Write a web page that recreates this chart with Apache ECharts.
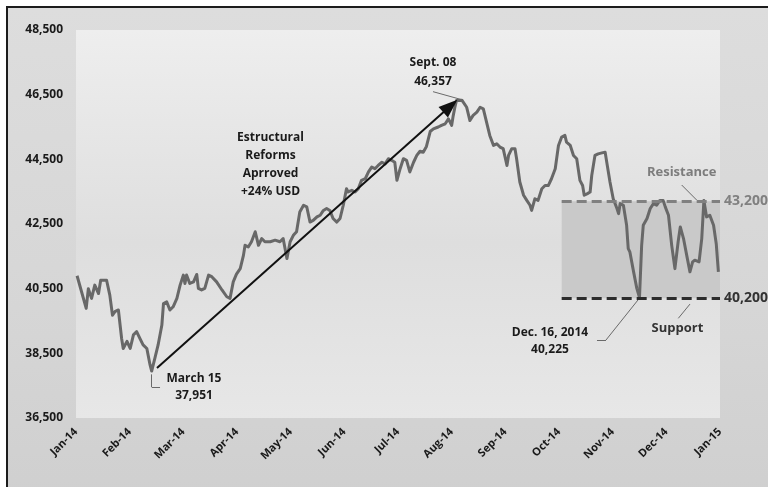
<!DOCTYPE html>
<html>
<head>
<meta charset="utf-8">
<script src="https://cdn.jsdelivr.net/npm/echarts@6/dist/echarts.min.js"></script>
<style>
  html, body { margin: 0; padding: 0; background: #ffffff; }
  #frame {
    position: absolute; left: 6px; top: 6px; width: 790px; height: 500px;
    border-left: 2px solid #1c1c1c; border-top: 2px solid #1c1c1c;
    background: linear-gradient(to bottom, #dddddd 0%, #d6d6d6 60%, #cfcfcf 100%);
  }
  #chart { position: absolute; left: 0; top: 0; width: 768px; height: 487px; }
</style>
</head>
<body>
<div id="frame"></div>
<div id="chart"></div>
<script>
// ---- data ----
const monthLabels = ['Jan-14','Feb-14','Mar-14','Apr-14','May-14','Jun-14','Jul-14','Aug-14','Sep-14','Oct-14','Nov-14','Dec-14','Jan-15'];
const yTicks = [36500, 38500, 40500, 42500, 44500, 46500, 48500];

// position along the axis, in months from Jan-14
const monthPos = [
  0.02,0.19,0.23,0.29,0.35,0.42,0.46,0.57,0.63,0.68,0.73,0.79,0.85,0.88,0.95,
  1.01,1.07,1.13,1.19,1.25,1.32,1.38,1.41,1.47,1.53,1.60,1.63,1.69,1.75,1.81,1.88,1.94,
  2.00,2.03,2.06,2.12,2.19,2.25,2.28,2.34,2.40,2.47,2.53,2.62,2.72,2.81,2.87,2.93,2.99,
  3.06,3.12,3.15,3.21,3.27,3.34,3.40,3.46,3.52,3.62,3.71,3.80,3.86,3.93,3.99,
  4.05,4.11,4.17,4.24,4.30,4.36,4.42,4.49,4.55,4.61,4.67,4.73,4.79,4.86,4.92,4.98,
  5.04,5.07,5.14,5.20,5.26,5.32,5.39,5.45,5.51,5.57,5.63,5.70,5.76,5.82,5.88,5.94,5.98,
  6.04,6.10,6.16,6.22,6.29,6.35,6.41,6.47,6.53,6.60,6.66,6.75,6.81,6.88,6.94,
  7.00,7.03,7.06,7.09,7.12,7.19,7.22,7.28,7.34,7.40,7.47,7.53,7.59,7.65,7.71,7.78,7.84,7.90,7.96,
  8.03,8.06,8.12,8.18,8.21,8.27,8.34,8.40,8.46,8.49,8.55,8.61,8.68,8.74,8.80,8.86,8.93,8.99,
  9.05,9.11,9.14,9.21,9.27,9.33,9.39,9.44,9.47,9.53,9.58,9.61,9.67,9.73,9.80,9.86,9.89,9.95,
  10.01,10.08,10.11,10.14,10.20,10.26,10.29,10.32,10.39,10.45,10.50,10.54,10.57,10.64,10.70,10.76,10.82,10.88,10.94,10.98,
  11.04,11.10,11.16,11.22,11.26,11.32,11.38,11.44,11.49,11.53,11.61,11.66,11.70,11.75,11.81,11.88,11.93,11.97
];
const ipcValues = [
  40900,39890,40500,40200,40610,40350,40760,40760,40300,39680,39800,39840,38960,38650,38870,
  38650,39070,39170,38960,38760,38650,38140,37951,38350,38760,39375,40040,40090,39840,39940,40200,40610,
  40920,40660,40920,40660,40710,40940,40510,40460,40510,40920,40870,40710,40460,40250,40200,40710,40950,
  41120,41530,41840,41790,41950,42260,41840,42050,41950,41950,42000,41950,42050,41430,41950,
  42150,42260,42870,43080,43030,42560,42610,42720,42770,42920,42980,42920,42670,42560,42670,43080,
  43590,43490,43540,43490,43590,43850,43900,44110,44260,44210,44310,44410,44360,44520,44470,44410,43850,
  44210,44520,44470,44110,44410,44620,44750,44720,44900,45360,45440,45500,45550,45600,45750,
  45550,45860,46110,46320,46300,46330,46357,46110,45700,45860,45960,46110,46060,45650,45240,44930,44980,44880,44830,
  44310,44620,44830,44830,44520,43800,43390,43230,43080,42920,43280,43230,43590,43690,43690,43900,44210,44930,
  45190,45240,45030,44930,44620,44520,43850,43690,43390,43440,43490,44000,44620,44670,44700,44720,44410,43800,
  43280,42980,42820,43130,43080,42460,41740,41640,41020,40510,40225,41840,42460,42670,42980,43130,43080,43230,43230,43030,
  42770,41840,41120,41950,42410,42050,41530,41020,41330,41380,41330,42050,43230,42720,42770,42460,41890,41020
];

const resistanceLevel = 43200;
const supportLevel = 40200;
const marchLow = 37951;
const septHigh = 46357;
const decLow = 40225;
const reformText = ['Estructural', 'Reforms', 'Aprroved', '+24% USD'];

// ---- chart ----
const fmt = v => v.toLocaleString('en-US');
const FONT = 'Open Sans';
const txt = (extra) => Object.assign({
  show: true, position: 'inside', fontFamily: FONT, fontWeight: 'bold',
  fontSize: 12, color: '#1a1a1a', align: 'center', verticalAlign: 'middle'
}, extra);
const leaderStyle = { color: '#6a6a6a', width: 1, type: 'solid' };
const seg = (a, b) => [{ coord: a, lineStyle: leaderStyle, symbol: 'none' }, { coord: b, symbol: 'none' }];

const chart = echarts.init(document.getElementById('chart'), null, { renderer: 'canvas' });
chart.setOption({
  animation: false,
  backgroundColor: 'transparent',
  grid: {
    left: 76, right: 48, top: 30, bottom: 69, show: true, borderWidth: 0,
    backgroundColor: new echarts.graphic.LinearGradient(0, 0, 0, 1, [
      { offset: 0, color: '#eeeeee' },
      { offset: 0.55, color: '#dedede' },
      { offset: 1, color: '#e7e7e7' }
    ])
  },
  xAxis: {
    type: 'value', min: 0, max: 12, interval: 1,
    axisLine: { show: false }, axisTick: { show: false }, splitLine: { show: false },
    axisLabel: {
      rotate: 45, margin: 12, fontFamily: FONT, fontWeight: 'bold', fontSize: 11, color: '#1a1a1a',
      showMinLabel: true, showMaxLabel: true,
      formatter: v => monthLabels[Math.round(v)] || ''
    }
  },
  yAxis: {
    type: 'value', min: yTicks[0], max: yTicks[yTicks.length - 1],
    axisLine: { show: false }, axisTick: { show: false }, splitLine: { show: false },
    axisLabel: {
      customValues: yTicks, margin: 13, fontFamily: FONT, fontWeight: 'bold', fontSize: 12, color: '#1a1a1a',
      formatter: v => fmt(v)
    }
  },
  series: [{
    type: 'line',
    data: monthPos.map((m, i) => [m, ipcValues[i]]),
    showSymbol: false, clip: false, z: 3,
    lineStyle: { color: '#686868', width: 3, join: 'round' },
    markArea: {
      silent: true,
      itemStyle: { color: '#c9c9c9' },
      data: [[{ coord: [9.05, supportLevel] }, { coord: [12, resistanceLevel] }]]
    },
    markLine: {
      silent: true, symbol: ['none', 'none'], label: { show: false },
      data: [
        [{ coord: [9.05, resistanceLevel], lineStyle: { color: '#808080', width: 3, type: [10, 5] },
           label: { show: true, position: 'end', distance: 4, formatter: fmt(resistanceLevel),
                    fontFamily: FONT, fontWeight: 'bold', fontSize: 14, color: '#808080' } },
         { coord: [12, resistanceLevel] }],
        [{ coord: [9.05, supportLevel], lineStyle: { color: '#2b2b2b', width: 3, type: [10, 5] },
           label: { show: true, position: 'end', distance: 4, formatter: fmt(supportLevel),
                    fontFamily: FONT, fontWeight: 'bold', fontSize: 14, color: '#333333' } },
         { coord: [12, supportLevel] }],
        [{ coord: [1.509, 38046], lineStyle: { color: '#111111', width: 2, type: 'solid' }, symbol: 'none' },
         { coord: [6.975, 46150], symbol: 'triangle', symbolSize: [14, 19] }],
        seg([6.652, 46593], [7.211, 46335]),
        seg([1.411, 37850], [1.411, 37458]),
        seg([1.411, 37458], [1.566, 37458]),
        seg([9.708, 38912], [9.876, 38912]),
        seg([9.876, 38912], [10.472, 40150]),
        seg([11.286, 43706], [11.565, 43242]),
        seg([11.223, 39583], [11.441, 40024])
      ]
    },
    markPoint: {
      silent: true, symbol: 'circle', symbolSize: 1, itemStyle: { color: 'rgba(0,0,0,0)' },
      data: [
        { coord: [3.624, 44324], label: txt({ formatter: reformText.join('\n'), lineHeight: 18 }) },
        { coord: [6.652, 47185], label: txt({ formatter: 'Sept. 08\n' + fmt(septHigh), lineHeight: 19 }) },
        { coord: [2.199, 37458], label: txt({ formatter: 'March 15\n' + fmt(marchLow), lineHeight: 17 }) },
        { coord: [8.832, 38865], label: txt({ formatter: 'Dec. 16, 2014\n' + fmt(decLow), lineHeight: 17 }) },
        { coord: [11.286, 44086], label: txt({ formatter: 'Resistance', color: '#7d7d7d', fontSize: 13 }) },
        { coord: [11.208, 39274], label: txt({ formatter: 'Support', color: '#333333', fontSize: 13 }) }
      ]
    }
  }]
});
</script>
</body>
</html>
